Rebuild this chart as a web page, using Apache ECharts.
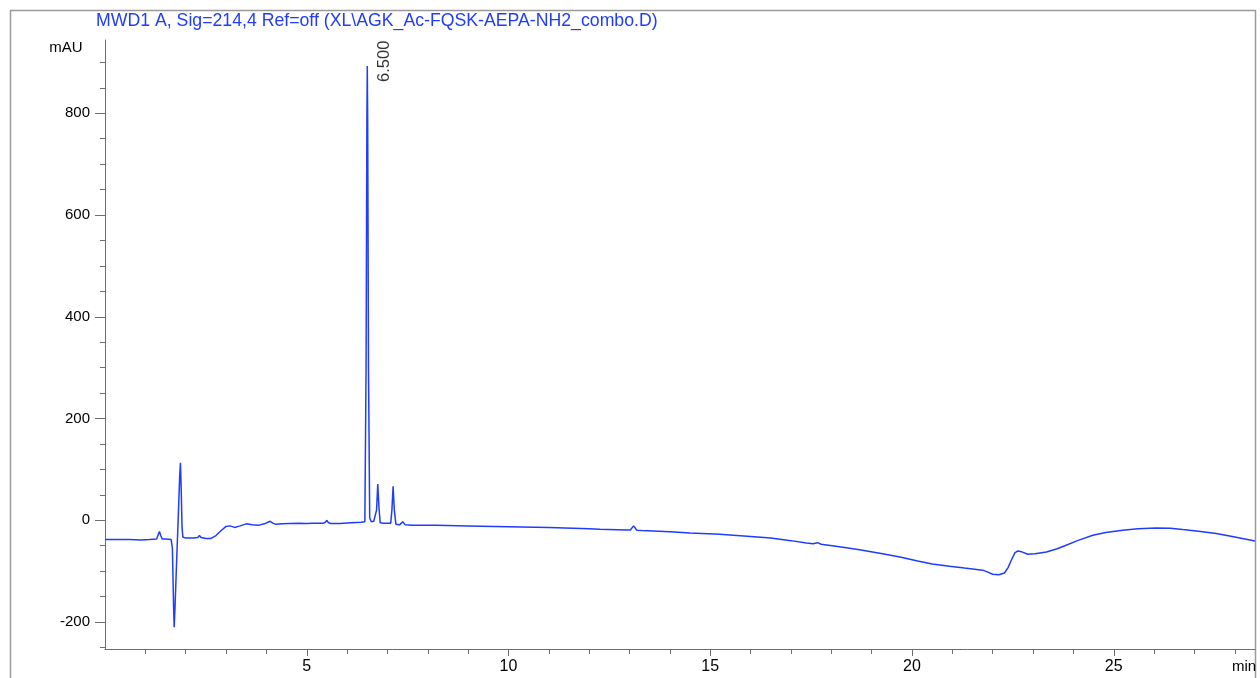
<!DOCTYPE html>
<html>
<head>
<meta charset="utf-8">
<script src="https://cdn.jsdelivr.net/npm/echarts@6/dist/echarts.min.js"></script>
<style>
  html, body { margin: 0; padding: 0; background: #ffffff; }
  #chart { width: 1260px; height: 678px; }
</style>
</head>
<body>
<div id="chart"></div>
<script>
// Retention time (min) and detector response (mAU) of the MWD1 A trace
const times = [
  0.00, 0.30, 0.60, 0.90, 1.10, 1.28, 1.32, 1.35, 1.38, 1.42, 1.50, 1.64, 1.67, 1.70, 1.715,
  1.74, 1.78, 1.82, 1.85, 1.87, 1.89, 1.91, 1.93, 2.00, 2.20, 2.30, 2.34, 2.38, 2.50, 2.62,
  2.75, 2.88, 3.00, 3.10, 3.21, 3.35, 3.50, 3.65, 3.80, 3.95, 4.09, 4.17, 4.24, 4.40, 4.57,
  4.80, 5.00, 5.14, 5.40, 5.46, 5.50, 5.54, 5.60, 5.81, 6.10, 6.35, 6.44, 6.47, 6.49, 6.50,
  6.51, 6.53, 6.56, 6.60, 6.66, 6.70, 6.73, 6.76, 6.79, 6.82, 6.90, 7.00, 7.08, 7.11, 7.14,
  7.17, 7.21, 7.30, 7.38, 7.44, 7.62, 8.20, 9.00, 10.00, 11.00, 12.00, 12.26, 12.90, 13.02, 13.10,
  13.18, 13.30, 14.00, 14.50, 15.23, 16.00, 16.50, 17.00, 17.38, 17.55, 17.66, 17.75, 18.20, 18.70, 19.27,
  19.70, 20.14, 20.50, 20.93, 21.30, 21.75, 21.85, 22.00, 22.15, 22.29, 22.38, 22.46, 22.55, 22.62, 22.72,
  22.87, 23.05, 23.33, 23.60, 23.82, 24.10, 24.48, 24.80, 25.22, 25.60, 26.05, 26.40, 26.71, 27.10, 27.54,
  28.00, 28.50
];
const signal = [
  -38, -38, -38, -39, -38, -37, -28, -22, -30, -37, -37, -38, -55, -170, -210,
  -160, -70, 15, 85, 113, 55, -15, -33, -35, -35, -34, -30, -34, -36, -36,
  -30, -20, -12, -11, -14, -11, -7, -9, -10, -7, -2, -6, -8, -7, -6.5,
  -6, -6.5, -6, -6, -4, 0, -5, -6.5, -6.5, -5, -4, -3, 300, 780, 893,
  780, 300, 5, -3, -2, -3, 20, 71, 25, -5, -6, -6, -6, 20, 67,
  20, -8, -9, -3, -9, -10, -10, -11, -12.5, -14, -16.5, -17.7, -19, -19, -11,
  -19.5, -20, -22.5, -25, -27.5, -32, -35, -40, -44.6, -46, -44, -47, -52, -58, -65.6,
  -72, -80, -86, -90.4, -94, -98, -101, -106, -107, -103.6, -93, -78.6, -64, -60.3, -62,
  -66.8, -66, -62.3, -56, -49, -40, -29.5, -24, -19.7, -16.5, -15, -15.5, -18.3, -21.5, -26,
  -33, -40.7
];

// Integrated peaks annotated with their retention time
const labeledPeaks = [6.5];

// Axis tick positions
const xMajorTicks = [5, 10, 15, 20, 25];
const xMinorTicks = [1, 2, 3, 4, 6, 7, 8, 9, 11, 12, 13, 14, 16, 17, 18, 19, 21, 22, 23, 24, 26, 27, 28];
const yMajorTicks = [-200, 0, 200, 400, 600, 800];
const yMinorTicks = [-250, -150, -100, -50, 50, 100, 150, 250, 300, 350, 450, 500, 550, 650, 700, 750, 850, 900];

const titleText = 'MWD1 A, Sig=214,4 Ref=off (XL\\AGK_Ac-FQSK-AEPA-NH2_combo.D)';
const traceColor = '#1f3cff';
const axisColor = '#6e6e6e';
const font = '"Liberation Sans", Arial, sans-serif';

const traceData = times.map((t, i) => [t, signal[i]]);
const peakData = labeledPeaks.map(t => [t, signal[times.indexOf(t)]]);

const X_MIN = 0, X_MAX = 28.5, Y_MIN = -253, Y_MAX = 944;

function baseX(extra) {
  return Object.assign({
    type: 'value', min: X_MIN, max: X_MAX, position: 'bottom',
    splitLine: { show: false }
  }, extra);
}
function baseY(extra) {
  return Object.assign({
    type: 'value', min: Y_MIN, max: Y_MAX, position: 'left',
    splitLine: { show: false }
  }, extra);
}

const chart = echarts.init(document.getElementById('chart'), null, { renderer: 'canvas' });
chart.setOption({
  animation: false,
  backgroundColor: '#ffffff',
  title: {
    text: titleText,
    left: 96, top: 12,
    padding: 0,
    textStyle: { color: traceColor, fontFamily: font, fontSize: 17.7, fontWeight: 'normal' }
  },
  grid: { left: 105, right: 5, top: 40, bottom: 29, containLabel: false },
  xAxis: [
    baseX({
      axisLine: { show: true, onZero: false, lineStyle: { color: axisColor, width: 1 } },
      axisTick: { show: true, customValues: xMajorTicks, length: 7, lineStyle: { color: axisColor } },
      axisLabel: { show: true, customValues: xMajorTicks, margin: 10, color: '#000', fontFamily: font, fontSize: 16 }
    }),
    baseX({
      axisLine: { show: false, onZero: false },
      axisTick: { show: true, customValues: xMinorTicks, length: 5, lineStyle: { color: axisColor } },
      axisLabel: { show: false }
    })
  ],
  yAxis: [
    baseY({
      axisLine: { show: true, onZero: false, lineStyle: { color: axisColor, width: 1 } },
      axisTick: { show: true, customValues: yMajorTicks, length: 10, lineStyle: { color: axisColor } },
      axisLabel: { show: true, customValues: yMajorTicks, margin: 15, color: '#000', fontFamily: font, fontSize: 15 }
    }),
    baseY({
      axisLine: { show: false, onZero: false },
      axisTick: { show: true, customValues: yMinorTicks, length: 5, lineStyle: { color: axisColor } },
      axisLabel: { show: false }
    })
  ],
  series: [
    {
      type: 'line',
      data: traceData,
      showSymbol: false,
      symbol: 'none',
      smooth: false,
      lineStyle: { color: traceColor, width: 1.5 },
      xAxisIndex: 0, yAxisIndex: 0,
      z: 3
    },
    {
      type: 'scatter',
      data: peakData,
      symbolSize: 0,
      xAxisIndex: 0, yAxisIndex: 0,
      label: {
        show: true,
        position: 'inside',
        formatter: p => p.value[0].toFixed(3),
        rotate: 90,
        align: 'left',
        verticalAlign: 'middle',
        offset: [-16, 17],
        color: '#000',
        fontFamily: font,
        fontSize: 16.5
      },
      z: 4
    }
  ],
  graphic: [
    {
      type: 'polyline',
      shape: { points: [[10.5, 700], [10.5, 10.5], [1255.5, 10.5], [1255.5, 700]] },
      style: { stroke: '#9a9a9a', lineWidth: 1.5, fill: null },
      silent: true, z: 0
    },
    {
      type: 'text', x: 66, y: 48,
      style: { text: 'mAU', fill: '#000', font: '15px ' + font, textAlign: 'center', textVerticalAlign: 'middle' }
    },
    {
      type: 'text', x: 1244, y: 667,
      style: { text: 'min', fill: '#000', font: '15px ' + font, textAlign: 'center', textVerticalAlign: 'middle' }
    }
  ]
});
</script>
</body>
</html>
